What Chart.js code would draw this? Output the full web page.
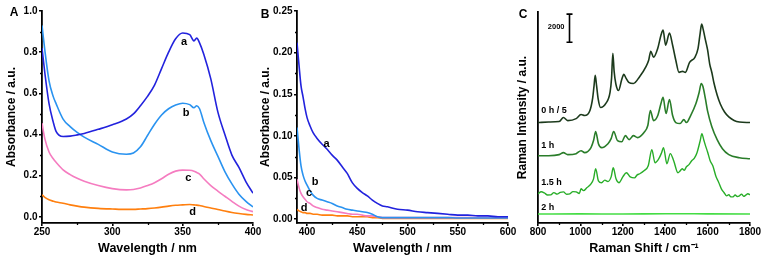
<!DOCTYPE html>
<html><head><meta charset="utf-8">
<script src="https://cdn.jsdelivr.net/npm/chart.js@4.4.1/dist/chart.umd.min.js"></script>
<style>
html,body{margin:0;padding:0;background:#fff;}
#wrap{position:relative;width:766px;height:263px;overflow:hidden;background:#fff;}
canvas{position:absolute;top:0;}
</style></head><body>
<div id="wrap">
<canvas id="cA" width="262" height="263" style="left:0px;width:262px;height:263px"></canvas>
<canvas id="cB" width="262" height="263" style="left:258px;width:262px;height:263px"></canvas>
<canvas id="cC" width="251" height="263" style="left:515px;width:251px;height:263px"></canvas>
</div>
<script>
// ---------- Panel A: UV-vis absorbance 250-400 nm ----------
const wlA = [250,252,255,258,260,265,270,275,280,290,300,310,315,320,325,330,335,340,345,350,355,358,360,362,365,370,375,380,385,390,395,400];
const absA_a = [0.82,0.70,0.55,0.46,0.415,0.39,0.392,0.398,0.405,0.425,0.447,0.475,0.50,0.54,0.585,0.64,0.72,0.80,0.865,0.893,0.885,0.855,0.868,0.845,0.79,0.67,0.51,0.40,0.30,0.24,0.17,0.115];
const absA_b = [0.93,0.81,0.66,0.584,0.55,0.475,0.438,0.41,0.387,0.352,0.315,0.304,0.31,0.34,0.395,0.45,0.495,0.525,0.543,0.552,0.545,0.53,0.54,0.525,0.46,0.37,0.295,0.22,0.16,0.11,0.075,0.048];
const absA_c = [0.455,0.38,0.315,0.282,0.265,0.228,0.205,0.187,0.173,0.152,0.137,0.131,0.133,0.14,0.152,0.166,0.185,0.207,0.222,0.227,0.226,0.222,0.215,0.208,0.185,0.152,0.125,0.10,0.075,0.052,0.036,0.025];
const absA_d = [0.107,0.095,0.083,0.076,0.072,0.066,0.058,0.052,0.047,0.041,0.038,0.036,0.036,0.038,0.040,0.043,0.047,0.052,0.056,0.058,0.060,0.058,0.057,0.055,0.050,0.043,0.036,0.028,0.021,0.016,0.012,0.009];
const ticksAx = [250,300,350,400];
const minorAx = [275,325,375];
const ticksAy = [0,0.2,0.4,0.6,0.8,1.0];
const minorAy = [0.1,0.3,0.5,0.7,0.9];

// ---------- Panel B: absorbance 390-600 nm ----------
const wlB = [390,392,394,396,398,400,403,406,410,415,420,425,430,435,440,445,450,455,460,465,470,475,480,490,500,510,520,530,540,550,560,570,580,590,600];
const absB_a = [0.212,0.185,0.16,0.147,0.133,0.122,0.112,0.104,0.097,0.09,0.084,0.077,0.071,0.063,0.055,0.044,0.037,0.032,0.028,0.023,0.019,0.016,0.015,0.012,0.011,0.009,0.008,0.007,0.006,0.005,0.005,0.004,0.004,0.003,0.003];
const absB_b = [0.11,0.085,0.064,0.053,0.046,0.041,0.034,0.029,0.025,0.023,0.021,0.019,0.016,0.014,0.012,0.011,0.010,0.009,0.008,0.006,0.003,0.002,0.002,0.002,0.002,0.002,0.002,0.002,0.002,0.0015,0.0015,0.0015,0.0015,0.0015,0.0015];
const absB_c = [0.048,0.038,0.031,0.027,0.024,0.021,0.019,0.016,0.014,0.012,0.011,0.010,0.009,0.008,0.007,0.006,0.006,0.005,0.004,0.004,0.003,0.002,0.002,0.002,0.002,0.002,0.002,0.002,0.002,0.002,0.002,0.002,0.002,0.002,0.002];
const absB_d = [0.012,0.010,0.009,0.008,0.008,0.007,0.007,0.006,0.006,0.005,0.005,0.005,0.004,0.004,0.004,0.003,0.003,0.003,0.003,0.002,0.002,0.001,0.001,0.001,0.001,0.001,0.001,0.001,0.001,0.001,0.001,0.001,0.001,0.001,0.001];
const ticksBx = [400,450,500,550,600];
const minorBx = [425,475,525,575];
const ticksBy = [0,0.05,0.10,0.15,0.20,0.25];
const minorBy = [0.025,0.075,0.125,0.175,0.225];

// ---------- Panel C: Raman spectra (offset, a.u.) ----------
const shift0h = [800,850,900,920,940,980,1003,1020,1045,1058,1064,1070,1076,1084,1095,1120,1140,1147,1153,1159,1167,1180,1195,1205,1215,1228,1250,1280,1310,1322,1332,1345,1365,1380,1390,1402,1420,1435,1450,1465,1482,1495,1515,1540,1555,1565,1572,1580,1590,1600,1610,1620,1630,1645,1660,1680,1700,1725,1750,1800];
const int0h = [7140,7180,7210,7500,7280,7420,7710,7640,8000,8900,9700,10500,9800,8800,8210,8500,9300,10300,12070,10800,9900,9420,10200,10570,10300,10000,9920,10420,11140,11570,12210,11780,12420,13350,13710,12640,13500,12640,11570,10710,10780,10710,11420,11780,12420,13500,14140,13710,13000,12300,11300,10700,9950,9100,8460,7890,7540,7290,7180,7140];
const shift1h = [800,850,900,920,940,980,1003,1020,1050,1062,1072,1085,1100,1130,1145,1157,1175,1195,1212,1230,1250,1270,1300,1318,1330,1345,1365,1380,1390,1404,1420,1435,1450,1470,1488,1500,1520,1545,1560,1570,1578,1590,1600,1620,1645,1670,1700,1750,1800];
const int1h = [4780,4780,4860,5000,4860,4930,5140,5000,5360,5860,6500,5640,5360,5640,6000,6500,5860,5780,6210,5930,6210,6070,6430,6930,8000,7280,7640,8500,8930,7780,8780,7640,7140,7070,7350,7140,7640,8500,9280,9920,9700,8800,7950,6850,5930,5280,4860,4640,4570];
const shift15h = [800,815,830,845,860,875,890,905,920,935,950,965,980,995,1003,1015,1030,1050,1062,1072,1085,1100,1115,1130,1145,1155,1168,1182,1200,1217,1235,1255,1268,1280,1300,1320,1337,1352,1370,1383,1392,1408,1424,1440,1460,1470,1480,1490,1500,1512,1525,1537,1550,1565,1573,1582,1590,1600,1612,1625,1640,1652,1665,1678,1690,1700,1710,1720,1730,1740,1750,1760,1770,1780,1790,1800];
const int15h = [2070,2220,2140,1990,2000,2160,2050,2180,2210,2040,2070,2230,2210,2100,2430,2300,2500,2780,3140,3860,3000,2860,3050,2950,3280,3930,3140,2860,3280,3570,3280,3210,3420,3500,3710,4070,5210,4280,4570,5000,5360,4210,4930,4430,3570,3700,3860,3750,4000,4150,4430,4600,5000,5850,6350,5900,5500,5050,4430,4050,3280,2900,2430,2150,1930,2010,1860,1860,1990,1880,1930,2050,1900,1980,2080,2000];
const shift2h = [800,1000,1200,1400,1600,1800];
const int2h = [640,650,640,660,650,640];
const ticksCx = [800,1000,1200,1400,1600,1800];
const minorCx = [900,1100,1300,1500,1700];

const FONT = '"Liberation Sans", Arial, sans-serif';
Chart.defaults.font.family = FONT;
Chart.defaults.font.weight = 'bold';
Chart.defaults.color = '#000';

function xyData(xs, ys){ return xs.map((x,i)=>({x:x, y:ys[i]})); }

function makeChart(id, cfg){
  const deco = {
    id: 'deco_'+id,
    afterDraw(chart){
      const ctx = chart.ctx, xs = chart.scales.x, ys = chart.scales.y;
      ctx.save();
      ctx.strokeStyle = '#000'; ctx.lineWidth = 1.3;
      (cfg.minorX||[]).forEach(v=>{ const p = Math.round(xs.getPixelForValue(v))+0.5; ctx.beginPath(); ctx.moveTo(p, xs.top); ctx.lineTo(p, xs.top+2); ctx.stroke(); });
      (cfg.minorY||[]).forEach(v=>{ const p = Math.round(ys.getPixelForValue(v))+0.5; ctx.beginPath(); ctx.moveTo(ys.right, p); ctx.lineTo(ys.right-2, p); ctx.stroke(); });
      ctx.fillStyle = '#000'; ctx.textBaseline = 'middle';
      (cfg.labels||[]).forEach(l=>{
        ctx.font = 'bold '+l.size+'px '+FONT; ctx.textAlign = l.align||'center';
        ctx.fillText(l.text, xs.getPixelForValue(l.x), ys.getPixelForValue(l.y));
      });
      if (cfg.letter){ ctx.font='bold 12px '+FONT; ctx.textAlign='center'; ctx.fillText(cfg.letter.t, cfg.letter.px, cfg.letter.py); }
      if (cfg.bar){
        const b = cfg.bar, bx = Math.round(xs.getPixelForValue(b.x))+0.5;
        const y1 = ys.getPixelForValue(b.y0+b.len), y2 = ys.getPixelForValue(b.y0);
        ctx.lineWidth = 1.6;
        ctx.beginPath(); ctx.moveTo(bx,y1); ctx.lineTo(bx,y2);
        ctx.moveTo(bx-3,y1); ctx.lineTo(bx+3,y1); ctx.moveTo(bx-3,y2); ctx.lineTo(bx+3,y2); ctx.stroke();
        ctx.font='bold 7.5px '+FONT; ctx.textAlign='right';
        ctx.fillText(String(b.len), bx-5, (y1+y2)/2 - 1);
      }
      ctx.restore();
    }
  };
  const yScale = {
    type:'linear', min:cfg.ymin, max:cfg.ymax,
    afterFit: s=>{ s.width = cfg.yw; },
    grid:{drawOnChartArea:false, drawTicks:!!cfg.yticks, tickLength:3, color:'#000', lineWidth:1.6},
    border:{display:true, color:'#000', width:1.8},
    ticks:{display:!!cfg.yticks, padding:1.5, font:{size:10, weight:'bold'}, color:'#000', callback:(v)=>cfg.yfmt?cfg.yfmt(v):''},
    title:{display:true, text:cfg.ytitle, font:{size:12, weight:'bold'}, color:'#000', padding:{top:cfg.ytpad||0, bottom:0}}
  };
  if (cfg.yticks) yScale.afterBuildTicks = s=>{ s.ticks = cfg.yticks.map(v=>({value:v})); };
  return new Chart(document.getElementById(id), {
    type:'line',
    data:{datasets: cfg.series.map(s=>({data:xyData(s.xs, s.ys), borderColor:s.color, borderWidth:s.w||1.6, pointRadius:0, cubicInterpolationMode:'monotone', fill:false}))},
    options:{
      responsive:false, animation:false, events:[],
      layout:{padding:cfg.pad},
      plugins:{legend:{display:false}, tooltip:{enabled:false}},
      scales:{
        x:{
          type:'linear', min:cfg.xmin, max:cfg.xmax,
          afterBuildTicks: s=>{ s.ticks = cfg.xticks.map(v=>({value:v})); },
          afterFit: s=>{ s.height = 40; },
          grid:{drawOnChartArea:false, drawTicks:true, tickLength:3, color:'#000', lineWidth:1.6},
          border:{display:true, color:'#000', width:1.8},
          ticks:{padding:0, maxRotation:0, autoSkip:false, font:{size:10, weight:'bold'}, color:'#000', callback:(v)=>String(v)},
          title:{display:true, text:cfg.xtitle, font:{size:12.5, weight:'bold'}, color:'#000', padding:{top:0, bottom:7}}
        },
        y: yScale
      }
    },
    plugins:[deco]
  });
}

makeChart('cA', {
  xmin:250, xmax:400, ymin:-0.03, ymax:1.0, yw:42, pad:{left:0, top:11, right:9, bottom:0},
  xticks:ticksAx, yticks:ticksAy, minorX:minorAx, minorY:minorAy, yfmt:v=>v.toFixed(1), ytpad:4,
  xtitle:'Wavelength / nm', ytitle:'Absorbance / a.u.',
  series:[
    {xs:wlA, ys:absA_a, color:'#2222dd'},
    {xs:wlA, ys:absA_b, color:'#2a93f0'},
    {xs:wlA, ys:absA_c, color:'#f57cc0'},
    {xs:wlA, ys:absA_d, color:'#ff7f0e'}
  ],
  labels:[
    {text:'a', x:351, y:0.85, size:11},
    {text:'b', x:352.5, y:0.505, size:11},
    {text:'c', x:354, y:0.19, size:11},
    {text:'d', x:357, y:0.022, size:11}
  ],
  letter:{t:'A', px:14, py:13}
});

makeChart('cB', {
  xmin:390, xmax:600, ymin:-0.0045, ymax:0.25, yw:39, pad:{left:0, top:11, right:12, bottom:0},
  xticks:ticksBx, yticks:ticksBy, minorX:minorBx, minorY:minorBy, yfmt:v=>v.toFixed(2), ytpad:0,
  xtitle:'Wavelength / nm', ytitle:'Absorbance / a.u.',
  series:[
    {xs:wlB, ys:absB_a, color:'#2222dd'},
    {xs:wlB, ys:absB_b, color:'#2a93f0'},
    {xs:wlB, ys:absB_c, color:'#f57cc0'},
    {xs:wlB, ys:absB_d, color:'#ff7f0e'}
  ],
  labels:[
    {text:'a', x:419.5, y:0.0905, size:11},
    {text:'b', x:408, y:0.045, size:11},
    {text:'c', x:402, y:0.0316, size:11},
    {text:'d', x:397, y:0.0136, size:11}
  ],
  letter:{t:'B', px:7, py:15}
});

makeChart('cC', {
  xmin:800, xmax:1800, ymin:0, ymax:15000, yw:23, pad:{left:0, top:12, right:16, bottom:0},
  xticks:ticksCx, yticks:null, minorX:minorCx, minorY:[], ytpad:0,
  xtitle:'Raman Shift / cm\u207B\u00B9', ytitle:'Raman Intensity / a.u.',
  series:[
    {xs:shift0h, ys:int0h, color:'#1c3a1c'},
    {xs:shift1h, ys:int1h, color:'#2a7d2a'},
    {xs:shift15h, ys:int15h, color:'#28ad28', w:1.4},
    {xs:shift2h, ys:int2h, color:'#44dd44'}
  ],
  labels:[
    {text:'0 h / 5', x:815, y:8000, size:9, align:'left'},
    {text:'1 h', x:815, y:5500, size:9, align:'left'},
    {text:'1.5 h', x:815, y:2880, size:9, align:'left'},
    {text:'2 h', x:815, y:1090, size:9, align:'left'}
  ],
  bar:{x:948, y0:12850, len:2000},
  letter:{t:'C', px:8, py:15}
});
</script>
</body></html>
